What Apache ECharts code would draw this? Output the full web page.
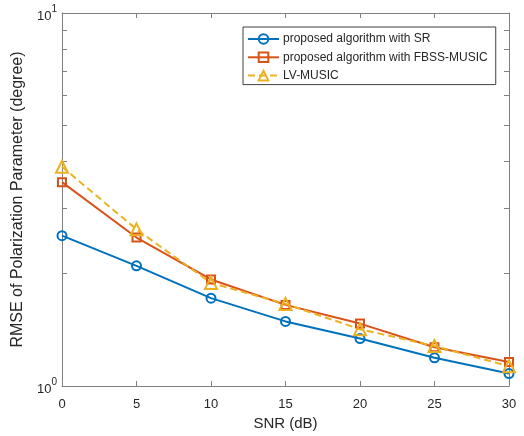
<!DOCTYPE html>
<html>
<head>
<meta charset="utf-8">
<script src="https://cdn.jsdelivr.net/npm/echarts@6/dist/echarts.min.js"></script>
<style>
  html, body { margin: 0; padding: 0; background: #fff; }
  #main { width: 524px; height: 436px; }
</style>
</head>
<body>
<div id="main"></div>
<script>
// SNR axis (dB)
var snr = [0, 5, 10, 15, 20, 25, 30];

// RMSE values
var rmse_sr = [2.53, 2.10, 1.72, 1.49, 1.34, 1.19, 1.08];
var rmse_fbss = [3.52, 2.50, 1.93, 1.65, 1.47, 1.27, 1.16];
var rmse_lv = [3.87, 2.63, 1.89, 1.66, 1.42, 1.28, 1.13];

var names = ['proposed algorithm with SR', 'proposed algorithm with FBSS-MUSIC', 'LV-MUSIC'];

// log axis ticks
var yMinorTicks = [1, 2, 3, 4, 5, 6, 7, 8, 9, 10];
var yLabels = [1, 10];

var axisGray = '#808080';
var textColor = '#262626';
var fontName = '"Liberation Sans", Arial, sans-serif';

function pairs(ys) {
    var out = [];
    for (var i = 0; i < snr.length; i++) {
        out.push([snr[i], ys[i]]);
    }
    return out;
}

function makeSeries(name, ys, color, symbol, size, dashed) {
    return {
        name: name,
        type: 'line',
        data: pairs(ys),
        symbol: symbol,
        symbolSize: size,
        showAllSymbol: true,
        lineStyle: { color: color, width: 2, type: dashed ? [7, 4] : 'solid' },
        itemStyle: { color: 'rgba(255,255,255,0)', borderColor: color, borderWidth: 2 },
        emphasis: { disabled: true },
        z: 3
    };
}

var myChart = echarts.init(document.getElementById('main'));
var option = {
    animation: false,
    textStyle: { fontFamily: fontName },
    grid: { left: 62, right: 15, top: 13, bottom: 49 },
    legend: {
        orient: 'vertical',
        left: 243,
        top: 27,
        width: 254,
        padding: [6, 8, 3, 4],
        backgroundColor: '#fff',
        borderColor: '#404040',
        borderWidth: 1,
        itemWidth: 31,
        itemHeight: 12,
        itemGap: 6.3,
        textStyle: { fontSize: 12, color: textColor, fontFamily: fontName, padding: [0, 0, 0, -1] },
        data: names
    },
    xAxis: [
        {
            type: 'value',
            min: 0,
            max: 30,
            interval: 5,
            name: 'SNR (dB)',
            nameLocation: 'middle',
            nameGap: 30,
            nameTextStyle: { fontSize: 15, color: textColor },
            axisLine: { onZero: false, lineStyle: { color: axisGray, width: 1 } },
            axisTick: { inside: true, length: 5, lineStyle: { color: axisGray } },
            axisLabel: { fontSize: 13, color: textColor, margin: 12 },
            splitLine: { show: false }
        },
        {
            type: 'value',
            position: 'top',
            min: 0,
            max: 30,
            interval: 5,
            axisLine: { show: true, onZero: false, lineStyle: { color: axisGray, width: 1 } },
            axisTick: { show: true, inside: true, length: 5, lineStyle: { color: axisGray } },
            axisLabel: { show: false },
            splitLine: { show: false }
        }
    ],
    yAxis: [
        {
            type: 'log',
            logBase: 10,
            min: 1,
            max: 10,
            name: 'RMSE of Polarization Parameter (degree)',
            nameLocation: 'middle',
            nameGap: 31,
            nameTextStyle: { fontSize: 16, color: textColor },
            axisLine: { show: true, onZero: false, lineStyle: { color: axisGray, width: 1 } },
            axisTick: { show: true, inside: true, length: 5, lineStyle: { color: axisGray }, customValues: yMinorTicks },
            axisLabel: {
                customValues: yLabels,
                color: textColor,
                margin: 5,
                padding: [6, 0, 0, 0],
                formatter: function (v) {
                    return '{b|10}{sup|' + Math.round(Math.log10(v)) + '}';
                },
                rich: {
                    b: { fontSize: 13, lineHeight: 13, verticalAlign: 'bottom', color: textColor },
                    sup: { fontSize: 10, lineHeight: 10, verticalAlign: 'bottom', padding: [0, 0, 8, 0], color: textColor }
                }
            },
            splitLine: { show: false }
        },
        {
            type: 'log',
            logBase: 10,
            min: 1,
            max: 10,
            position: 'right',
            axisLine: { show: true, onZero: false, lineStyle: { color: axisGray, width: 1 } },
            axisTick: { show: true, inside: true, length: 5, lineStyle: { color: axisGray }, customValues: yMinorTicks },
            axisLabel: { show: false },
            splitLine: { show: false }
        }
    ],
    series: [
        makeSeries(names[0], rmse_sr, '#0072BD', 'circle', 9, false),
        makeSeries(names[1], rmse_fbss, '#D95319', 'rect', 8, false),
        makeSeries(names[2], rmse_lv, '#EDB120', 'triangle', 12, true)
    ]
};
myChart.setOption(option);
</script>
</body>
</html>
